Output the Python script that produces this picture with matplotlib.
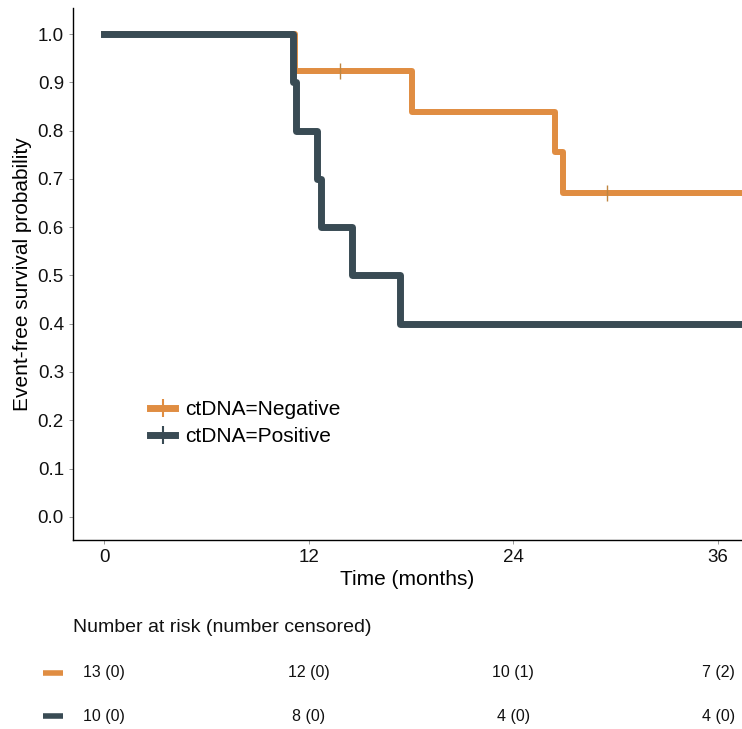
import matplotlib
matplotlib.use("Agg")
import matplotlib.pyplot as plt
from matplotlib.lines import Line2D

plt.rcParams['font.family'] = ['Liberation Sans', 'DejaVu Sans']

# Kaplan-Meier step data (months, survival probability)
neg_times = [0, 11.2, 18.05, 26.45, 26.9, 38]
neg_surv = [1.0, 0.923, 0.839, 0.755, 0.671, 0.671]
neg_cens_t = [13.85, 29.5]
neg_cens_s = [0.923, 0.671]

pos_times = [0, 11.1, 11.27, 12.5, 12.73, 14.55, 17.37, 38]
pos_surv = [1.0, 0.9, 0.8, 0.7, 0.6, 0.5, 0.4, 0.4]

# risk table
risk_times = [0, 12, 24, 36]
neg_at_risk = [13, 12, 10, 7]
neg_censored = [0, 0, 1, 2]
pos_at_risk = [10, 8, 4, 4]
pos_censored = [0, 0, 0, 0]

c_neg = '#E08D42'
c_pos = '#394B54'

fig = plt.figure(figsize=(7.42, 7.29), dpi=100)
ax = fig.add_axes([0.0984, 0.2593, 0.9016, 0.7298])

ax.step(neg_times, neg_surv, where='post', color=c_neg, lw=4.3, solid_joinstyle='round')
ax.plot(neg_cens_t, neg_cens_s, ls='none', marker='|', ms=12, mew=1.0, color='#C08540')
ax.step(pos_times, pos_surv, where='post', color=c_pos, lw=5.0, solid_joinstyle='round')

ax.set_xlim(-1.82, 37.4)
ax.set_ylim(-0.048, 1.054)
ax.set_xticks([0, 12, 24, 36])
ax.set_yticks([i / 10 for i in range(11)])
ax.set_yticklabels([f'{i / 10:.1f}' for i in range(11)])
ax.tick_params(labelsize=13.5, length=3, width=0.6, color='#888888', labelcolor='#111111')
for s in ['top', 'right']:
    ax.spines[s].set_visible(False)
for s in ['left', 'bottom']:
    ax.spines[s].set_linewidth(1.0)
ax.set_xlabel('Time (months)', fontsize=15, labelpad=3)
ax.set_ylabel('Event-free survival probability', fontsize=15, labelpad=4)

handles = [
    Line2D([], [], color=c_neg, lw=5, marker='|', ms=13, mew=1.5),
    Line2D([], [], color=c_pos, lw=5, marker='|', ms=13, mew=1.5),
]
ax.legend(handles, ['ctDNA=Negative', 'ctDNA=Positive'], loc='center left',
          bbox_to_anchor=(0.1, 0.22), frameon=False, fontsize=15,
          handlelength=1.2, handletextpad=0.45, labelspacing=0.38, borderpad=0)

# risk table axes sharing the x scale
rax = fig.add_axes([0.0984, 0.0, 0.9016, 0.17])
rax.set_xlim(ax.get_xlim())
rax.set_ylim(0, 1)
rax.axis('off')
fig.text(0.0984, 1 - 627 / 729, 'Number at risk (number censored)', fontsize=14,
         va='center', ha='left', color='#111111')
rows = [(neg_at_risk, neg_censored, c_neg, 1 - 673 / 729),
        (pos_at_risk, pos_censored, c_pos, 1 - 716 / 729)]
for n, c, col, yf in rows:
    y = yf / 0.17
    for t, a, k in zip(risk_times, n, c):
        rax.text(t, y, f'{a} ({k})', ha='center', va='center', fontsize=11.5, color='#111111')
    rax.plot([-3.6, -2.4], [y, y], color=col, lw=4, clip_on=False, solid_capstyle='butt')

fig.savefig('out.png', dpi=100)
